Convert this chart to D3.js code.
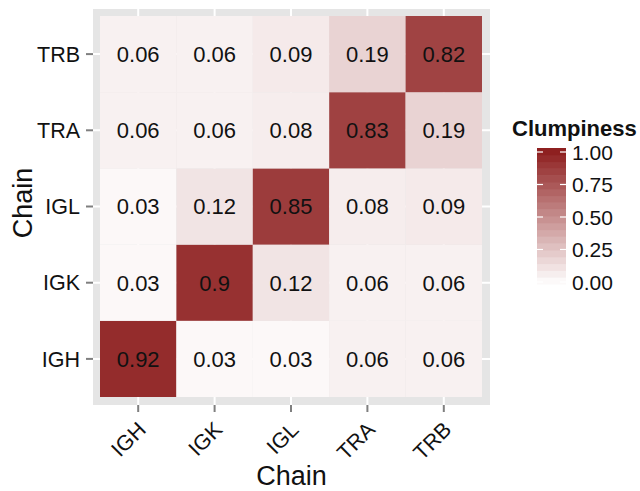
<!DOCTYPE html>
<html>
<head>
<meta charset="utf-8">
<script src="https://cdn.jsdelivr.net/npm/d3@7"></script>
<style>
  body { margin: 0; background: #fff; }
  svg { font-family: "Liberation Sans", Arial, sans-serif; }
</style>
</head>
<body>
<script>
var chains = ["IGH", "IGK", "IGL", "TRA", "TRB"];
// rows keyed by y chain, values ordered by x chain
var rowIGH = [0.92, 0.03, 0.03, 0.06, 0.06];
var rowIGK = [0.03, 0.9, 0.12, 0.06, 0.06];
var rowIGL = [0.03, 0.12, 0.85, 0.08, 0.09];
var rowTRA = [0.06, 0.06, 0.08, 0.83, 0.19];
var rowTRB = [0.06, 0.06, 0.09, 0.19, 0.82];
var legendTicks = [0, 0.25, 0.5, 0.75, 1];

var rows = {IGH: rowIGH, IGK: rowIGK, IGL: rowIGL, TRA: rowTRA, TRB: rowTRB};
var cells = [];
chains.forEach(function (yc) {
    rows[yc].forEach(function (v, i) {
        cells.push({x: chains[i], y: yc, v: v});
    });
});

var width = 640, height = 491;
var panel = {left: 93, top: 9, right: 490, bottom: 405};

var svg = d3.select("body").append("svg")
    .attr("width", width).attr("height", height);

var x = d3.scaleBand().domain(chains).range([100, 482]).padding(0);
var y = d3.scaleBand().domain(chains.slice().reverse()).range([16, 397]).padding(0);
var color = d3.scaleLinear().domain([0, 1]).range(["#ffffff", "#8b1a1a"])
    .interpolate(d3.interpolateRgb);

svg.append("rect")
    .attr("x", panel.left).attr("y", panel.top)
    .attr("width", panel.right - panel.left).attr("height", panel.bottom - panel.top)
    .attr("fill", "#e5e5e5");

// grid
svg.selectAll(".gx").data(chains).enter().append("line")
    .attr("x1", function (d) { return x(d) + x.bandwidth() / 2; })
    .attr("x2", function (d) { return x(d) + x.bandwidth() / 2; })
    .attr("y1", panel.top).attr("y2", panel.bottom)
    .attr("stroke", "#fff").attr("stroke-width", 2);
svg.selectAll(".gy").data(chains).enter().append("line")
    .attr("y1", function (d) { return y(d) + y.bandwidth() / 2; })
    .attr("y2", function (d) { return y(d) + y.bandwidth() / 2; })
    .attr("x1", panel.left).attr("x2", panel.right)
    .attr("stroke", "#fff").attr("stroke-width", 2);

svg.selectAll(".tile").data(cells).enter().append("rect")
    .attr("x", function (d) { return x(d.x); })
    .attr("y", function (d) { return y(d.y); })
    .attr("width", x.bandwidth()).attr("height", y.bandwidth())
    .attr("fill", function (d) { return color(d.v); });

svg.selectAll(".lbl").data(cells).enter().append("text")
    .attr("x", function (d) { return x(d.x) + x.bandwidth() / 2; })
    .attr("y", function (d) { return y(d.y) + y.bandwidth() / 2; })
    .attr("dy", "0.36em")
    .attr("text-anchor", "middle")
    .attr("font-size", 22)
    .attr("fill", "#111")
    .text(function (d) { return String(d.v); });

// axes
var xAxis = svg.append("g").attr("transform", "translate(0," + panel.bottom + ")")
    .call(d3.axisBottom(x).tickSize(7).tickPadding(4));
var yAxis = svg.append("g").attr("transform", "translate(" + panel.left + ",0)")
    .call(d3.axisLeft(y).tickSize(7).tickPadding(6));
[xAxis, yAxis].forEach(function (g) {
    g.select(".domain").remove();
    g.selectAll(".tick line").attr("stroke", "#7f7f7f").attr("stroke-width", 2);
    g.selectAll(".tick text").attr("fill", "#111").attr("font-size", 21.5)
        .attr("font-family", "Liberation Sans, Arial, sans-serif");
});
yAxis.selectAll(".tick text").attr("dy", "0.36em");
xAxis.selectAll(".tick text")
    .attr("text-anchor", "end")
    .attr("y", 0)
    .attr("dy", "0.72em")
    .attr("transform", "translate(-2,15) rotate(-45)");

svg.append("text")
    .attr("x", (panel.left + panel.right) / 2).attr("y", 485)
    .attr("text-anchor", "middle").attr("font-size", 27).attr("fill", "#111")
    .text("Chain");
svg.append("text")
    .attr("transform", "translate(32,203) rotate(-90)")
    .attr("text-anchor", "middle").attr("font-size", 27).attr("fill", "#111")
    .text("Chain");

// legend
var lg = svg.append("g");
lg.append("text").attr("x", 512).attr("y", 136)
    .attr("font-size", 22).attr("font-weight", "bold").attr("fill", "#111")
    .text("Clumpiness");
var barX = 537, barW = 29, barTop = 148, barBottom = 284;
var ly = d3.scaleLinear().domain([0, 1]).range([barBottom - 2, barTop + 4]);
var nbin = 20;
var bins = d3.range(nbin).map(function (i) { return i / nbin; });
var bh = (barBottom - barTop) / nbin;
lg.selectAll(".bin").data(bins).enter().append("rect")
    .attr("x", barX).attr("width", barW)
    .attr("y", function (d, i) { return barBottom - (i + 1) * bh; })
    .attr("height", bh + 0.5)
    .attr("fill", function (d) { return color(d + 0.5 / nbin); });
legendTicks.forEach(function (t) {
    [barX, barX + barW - 6].forEach(function (x0) {
        lg.append("line").attr("x1", x0).attr("x2", x0 + 6)
            .attr("y1", ly(t)).attr("y2", ly(t))
            .attr("stroke", "#fff").attr("stroke-width", 1.2);
    });
    lg.append("text").attr("x", barX + barW + 6).attr("y", ly(t))
        .attr("dy", "0.36em").attr("font-size", 21).attr("fill", "#111")
        .text(d3.format(".2f")(t));
});
</script>
</body>
</html>
